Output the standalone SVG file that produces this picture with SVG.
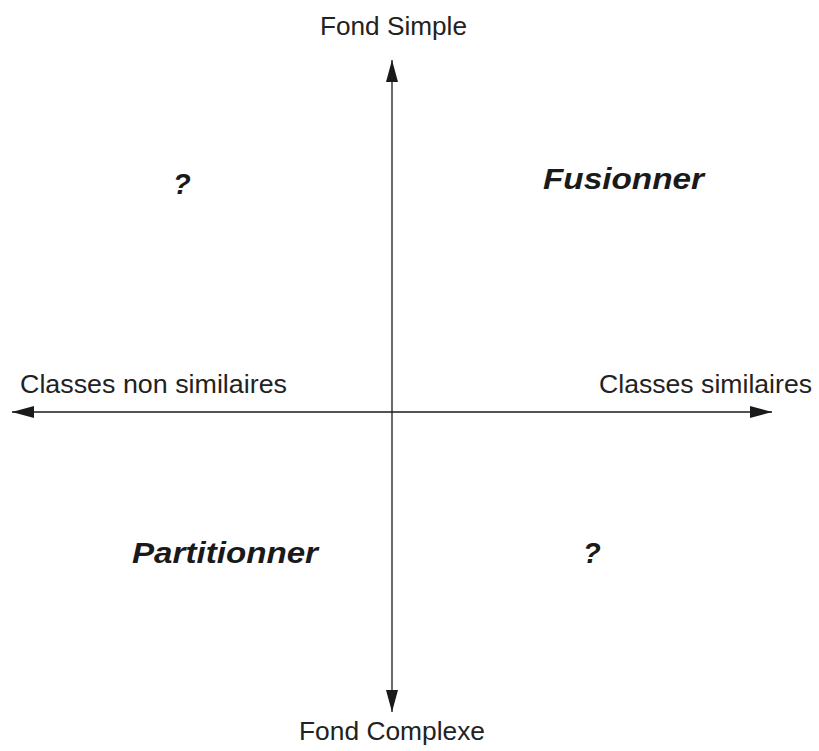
<svg xmlns="http://www.w3.org/2000/svg" width="819" height="751" viewBox="0 0 819 751">
  <style>
    .axis { stroke: #1a1a1a; stroke-width: 1.3; fill: none; }
    .lbl { font-family: "Liberation Sans", Arial, sans-serif; font-size: 25px; fill: #222; text-anchor: middle; }
    .act { font-family: "Liberation Sans", Arial, sans-serif; font-size: 29px; font-weight: bold; font-style: italic; fill: #1a1a1a; }
  </style>
  <defs>
    <marker id="tip" viewBox="0 0 22 12" refX="22" refY="6" markerWidth="22" markerHeight="12" markerUnits="userSpaceOnUse" orient="auto">
      <path d="M0,0 L22,6 L0,12 Z" fill="#1a1a1a"/>
    </marker>
  </defs>

  <!-- axes -->
  <g id="connectors">
    <line class="axis" x1="392" y1="412" x2="392" y2="60" marker-end="url(#tip)"/>
    <line class="axis" x1="392" y1="412" x2="392" y2="712" marker-end="url(#tip)"/>
    <line class="axis" x1="392" y1="412" x2="12" y2="412" marker-end="url(#tip)"/>
    <line class="axis" x1="392" y1="412" x2="772" y2="412" marker-end="url(#tip)"/>
  </g>

  <!-- axis labels -->
  <g id="fond-simple"><text class="lbl" x="393.5" y="35" textLength="147" lengthAdjust="spacingAndGlyphs">Fond Simple</text></g>
  <g id="fond-complexe"><text class="lbl" x="392" y="740" textLength="186" lengthAdjust="spacingAndGlyphs">Fond Complexe</text></g>
  <g id="classes-non-similaires"><text class="lbl" x="153.5" y="393" textLength="267" lengthAdjust="spacingAndGlyphs">Classes non similaires</text></g>
  <g id="classes-similaires"><text class="lbl" x="705.5" y="393" textLength="213" lengthAdjust="spacingAndGlyphs">Classes similaires</text></g>

  <!-- quadrant labels -->
  <g id="q-top-left"><text class="act" x="173" y="194">?</text></g>
  <g id="q-top-right"><text class="act" x="543" y="189" textLength="161" lengthAdjust="spacingAndGlyphs">Fusionner</text></g>
  <g id="q-bottom-left"><text class="act" x="132" y="563" textLength="186" lengthAdjust="spacingAndGlyphs">Partitionner</text></g>
  <g id="q-bottom-right"><text class="act" x="583" y="563">?</text></g>
</svg>
